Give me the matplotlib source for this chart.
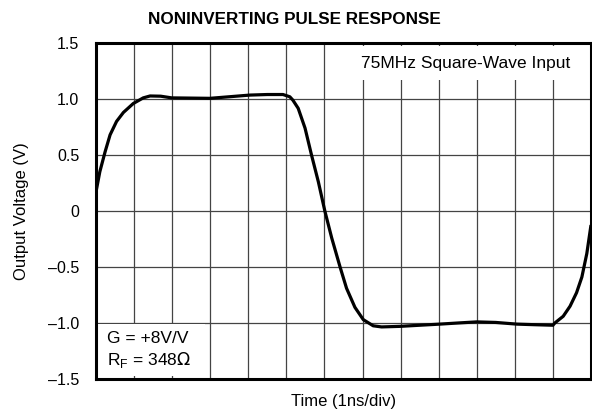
import matplotlib.pyplot as plt
from matplotlib.patches import Rectangle

plt.rcParams['font.family'] = ['Liberation Sans', 'DejaVu Sans']

# time in divisions (1ns/div), output in volts
t = [0.0, 0.1, 0.24, 0.37, 0.54, 0.72, 0.98, 1.24, 1.42, 1.7, 1.99, 2.5, 2.99,
     3.5, 4.04, 4.5, 4.91, 5.09, 5.17, 5.31, 5.49, 5.66, 5.84, 6.01, 6.19,
     6.41, 6.58, 6.8, 7.02, 7.28, 7.5, 7.98, 8.5, 9.03, 9.5, 10.0, 10.5,
     11.05, 11.5, 12.0, 12.05, 12.27, 12.45, 12.62, 12.76, 12.89, 13.0]
v = [0.17, 0.35, 0.53, 0.68, 0.80, 0.88, 0.96, 1.01, 1.027, 1.025, 1.01, 1.008, 1.006,
     1.02, 1.035, 1.04, 1.04, 1.02, 0.99, 0.917, 0.74, 0.50, 0.26, 0.0, -0.24,
     -0.50, -0.69, -0.86, -0.97, -1.025, -1.035, -1.03, -1.02, -1.01, -1.0, -0.99, -0.995,
     -1.01, -1.015, -1.02, -1.0, -0.94, -0.85, -0.73, -0.59, -0.38, -0.125]

yticks = [1.5, 1.0, 0.5, 0, -0.5, -1.0, -1.5]
ylabels = ['1.5', '1.0', '0.5', '0', '\u20130.5', '\u20131.0', '\u20131.5']

fig = plt.figure(figsize=(5.92, 4.12), dpi=100)
ax = fig.add_axes([96/592, 1-379/412, 495/592, 336/412])

ax.set_xlim(0, 13)
ax.set_ylim(-1.5, 1.5)
ax.set_xticks(range(14))
ax.set_xticklabels([])
ax.set_yticks(yticks)
ax.set_yticklabels(ylabels, fontsize=11.5)
ax.tick_params(axis='y', length=0, pad=12)
ax.tick_params(axis='x', length=0, pad=0)
ax.grid(True, color='#444444', lw=0.9)
for s in ax.spines.values():
    s.set_linewidth(2.2)
    s.set_zorder(5)

# white boxes behind the annotations
ax.add_patch(Rectangle((0.47, 0.89), 0.525, 0.1, transform=ax.transAxes,
                       facecolor='white', edgecolor='none', zorder=2))
ax.add_patch(Rectangle((0.0, 0.01), 0.22, 0.155, transform=ax.transAxes,
                       facecolor='white', edgecolor='none', zorder=2))

ax.plot(t, v, color='black', lw=2.3, zorder=4, solid_capstyle='butt')

ax.text(0.746, 0.94, '75MHz Square-Wave Input', transform=ax.transAxes,
        ha='center', va='center', fontsize=12.5, zorder=3)
ax.text(0.022, 0.122, 'G = +8V/V', transform=ax.transAxes,
        ha='left', va='center', fontsize=12.5, zorder=3)
ax.text(0.022, 0.057, r'R$_\mathregular{F}$ = 348$\Omega$', transform=ax.transAxes,
        ha='left', va='center', fontsize=12.5, zorder=3)

fig.text(294/592, 1-19/412, 'NONINVERTING PULSE RESPONSE', fontsize=12.3,
         fontweight='bold', ha='center', va='center')
ax.set_xlabel('Time (1ns/div)', fontsize=12, labelpad=11)
ax.set_ylabel('Output Voltage (V)', fontsize=12, labelpad=14)

fig.savefig('out.png', dpi=100)
